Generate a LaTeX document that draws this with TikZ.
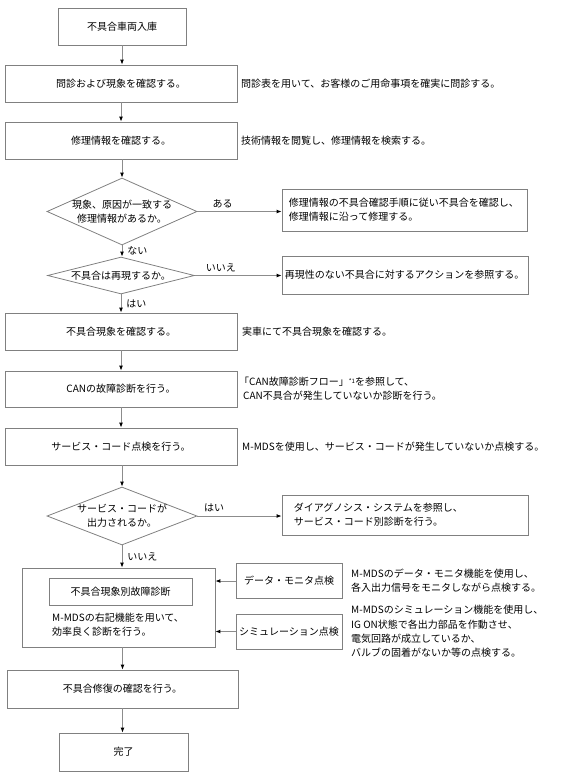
\documentclass[tikz,border=0pt]{standalone}
\usepackage{fontspec}
\setmainfont{Noto Sans CJK JP}
\usetikzlibrary{arrows.meta,shapes.geometric}
\begin{document}
\begin{tikzpicture}[x=1pt,y=-1pt,
  font=\fontsize{10}{14.3}\selectfont,
  box/.style={draw=black!50, line width=0.8pt, inner sep=0pt, align=center},
  dia/.style={draw=black!50, line width=0.8pt, shape=diamond, inner sep=0pt},
  conn/.style={draw=black!45, line width=0.9pt, -{Latex[length=5pt,width=4pt,black]}},
  side/.style={anchor=west, align=left, inner sep=0pt},
  lbl/.style={inner sep=0pt}]
\useasboundingbox (0,0) rectangle (562,784);
% main column
\node[box, minimum width=128pt, minimum height=37pt] (b1) at (122,26.5) {不具合車両入庫};
\node[box, minimum width=232pt, minimum height=37pt] (b2) at (121,83.5) {問診および現象を確認する。};
\node[box, minimum width=232pt, minimum height=37pt] (b3) at (121,140.5) {修理情報を確認する。};
\node[dia, minimum width=150pt, minimum height=67pt] (d1) at (122,211.5) {};
\node[lbl, align=center] (d1t) at (d1.center) {現象、原因が一致する\\修理情報があるか。};
\node[box, minimum width=245pt, minimum height=42pt] (r1) at (404.5,210) {};
\node[side] (r1t) at ([xshift=7pt]r1.west) {修理情報の不具合確認手順に従い不具合を確認し、\\修理情報に沿って修理する。};
\node[dia, minimum width=147pt, minimum height=37pt] (d2) at (121,275.5) {};
\node[lbl] (d2t) at (d2.center) {不具合は再現するか。};
\node[box, minimum width=246pt, minimum height=38pt] (r2) at (405,275) {};
\node[side] (r2t) at ([xshift=3pt]r2.west) {再現性のない不具合に対するアクションを参照する。};
\node[box, minimum width=232pt, minimum height=37pt] (b4) at (121,331.5) {不具合現象を確認する。};
\node[box, minimum width=232pt, minimum height=36pt] (b5) at (121,389) {CANの故障診断を行う。};
\node[box, minimum width=232pt, minimum height=37pt] (b6) at (121,446.5) {サービス・コード点検を行う。};
\node[dia, minimum width=150pt, minimum height=58pt] (d3) at (122,516) {};
\node[lbl, align=center] (d3t) at (d3.center) {サービス・コードが\\出力されるか。};
\node[box, minimum width=246pt, minimum height=40pt] (r3) at (405,515) {};
\node[side] (r3t) at ([xshift=12pt]r3.west) {ダイアグノシス・システムを参照し、\\サービス・コード別診断を行う。};
\node[box, minimum width=193pt, minimum height=79pt] (big) at (118.5,607.5) {};
\node[box, minimum width=143pt, minimum height=27pt] (inner) at (120.5,591.5) {不具合現象別故障診断};
\node[side] (bigt) at (52,625) {M-MDSの右記機能を用いて、\\効率良く診断を行う。};
\node[box, minimum width=106pt, minimum height=35pt] (data) at (289,581) {データ・モニタ点検};
\node[box, minimum width=106pt, minimum height=35pt] (sim) at (289,631.5) {シミュレーション点検};
\node[box, minimum width=231pt, minimum height=38pt] (b7) at (122.5,689) {不具合修復の確認を行う。};
\node[box, minimum width=129pt, minimum height=38pt] (b8) at (123.5,752) {完了};
% side texts
\node[side] (t2) at (241,83.5) {問診表を用いて、お客様のご用命事項を確実に問診する。};
\node[side] (t3) at (241,140.5) {技術情報を閲覧し、修理情報を検索する。};
\node[side] (t4) at (242,331.5) {実車にて不具合現象を確認する。};
\node[side] (t5) at (243,389) {\hspace*{-4pt}「CAN故障診断フロー」{\fontsize{6}{6}\selectfont\raisebox{2.5pt}{*1}}を参照して、\\CAN不具合が発生していないか診断を行う。};
\node[side] (t6) at (242,446.5) {M-MDSを使用し、サービス・コードが発生していないか点検する。};
\node[side] (tdata) at (351,581) {M-MDSのデータ・モニタ機能を使用し、\\各入出力信号をモニタしながら点検する。};
\node[side] (tsim) at (351,631.5) {M-MDSのシミュレーション機能を使用し、\\IG ON状態で各出力部品を作動させ、\\電気回路が成立しているか、\\バルブの固着がないか等の点検する。};
% connectors
\draw[conn] (b1.south) -- (b1.south |- b2.north);
\draw[conn] (b2.south) -- (b2.south |- b3.north);
\draw[conn] (b3.south -| d1.north) -- (d1.north);
\draw[conn] (d1.east) -- (d1.east -| r1.west) node[pos=0.3, above=3pt, lbl] (l1) {ある};
\draw[conn] (d1.south) -- (d1.south |- d2.north) node[midway, right=5pt, lbl] (l2) {ない};
\draw[conn] (d2.east) -- (d2.east -| r2.west) node[pos=0.3, above=3pt, lbl] (l3) {いいえ};
\draw[conn] (d2.south) -- (d2.south |- b4.north) node[midway, right=5pt, lbl] (l4) {はい};
\draw[conn] (b4.south) -- (b4.south |- b5.north);
\draw[conn] (b5.south) -- (b5.south |- b6.north);
\draw[conn] (b6.south -| d3.north) -- (d3.north);
\draw[conn] (d3.east) -- (d3.east -| r3.west) node[pos=0.2, above=4pt, lbl] (l5) {はい};
\draw[conn] (d3.south) -- (d3.south |- big.north) node[midway, right=5pt, lbl] (l6) {いいえ};
\draw[conn] (data.west) -- (data.west -| big.east);
\draw[conn] (sim.west) -- (sim.west -| big.east);
\draw[conn] (big.south -| b7.north) -- (b7.north);
\draw[conn] (b7.south) -- (b7.south |- b8.north);
\end{tikzpicture}
\end{document}
